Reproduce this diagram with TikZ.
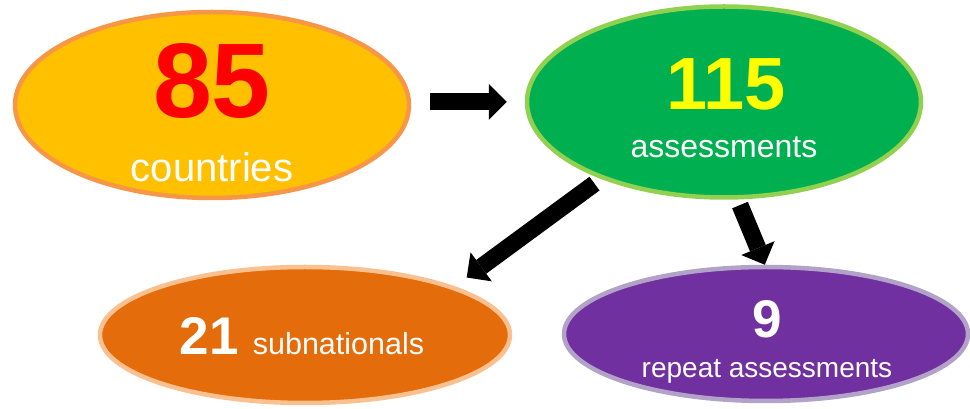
\documentclass[tikz,border=0pt]{standalone}
\usepackage{fontspec}
\setmainfont{Liberation Sans}
\usepackage{tikz}
\usetikzlibrary{arrows.meta, shapes.geometric}
\definecolor{custom_gold}{HTML}{FFC000}
\definecolor{custom_peach}{HTML}{F79646}
\definecolor{custom_green}{HTML}{00B050}
\definecolor{custom_lime}{HTML}{92D050}
\definecolor{custom_orange}{HTML}{E46C0A}
\definecolor{custom_apricot}{HTML}{FAC090}
\definecolor{custom_purple}{HTML}{7030A0}
\definecolor{custom_lilac}{HTML}{B3A2C7}
\definecolor{custom_red}{HTML}{FF0000}
\definecolor{custom_yellow}{HTML}{FFFF00}

\begin{document}
\begin{tikzpicture}[x=1pt, y=1pt,
    blob/.style={ellipse, line width=4.5pt, inner sep=0pt},
    txt/.style={anchor=base, inner sep=0pt, text=white},
    blockarrow/.style={line width=17pt, -{Triangle[length=18pt, width=36pt, line width=0pt]}}]
    \useasboundingbox (0,0) rectangle (970,409);

    % Top row - countries and assessments
    \node[blob, fill=custom_gold, draw=custom_peach, minimum width=394pt, minimum height=186pt] (n85) at (212,304) {};
    \node[blob, fill=custom_green, draw=custom_lime, minimum width=394pt, minimum height=191pt] (n115) at (724,307) {};

    \node[txt, text=custom_red, font=\fontsize{106}{106}\selectfont\bfseries] (t85) at (212,291) {85};
    \node[txt, font=\fontsize{40}{40}\selectfont] (tcountries) at (212,227) {countries};
    \node[txt, text=custom_yellow, font=\fontsize{74}{74}\selectfont\bfseries] (t115) at (726,299) {115};
    \node[txt, font=\fontsize{32}{32}\selectfont] (tassess) at (724,251) {assessments};

    % Bottom row - subnationals and repeats
    \node[blob, fill=custom_orange, draw=custom_apricot, minimum width=410pt, minimum height=136pt] (n21) at (305,74) {};
    \node[blob, fill=custom_purple, draw=custom_lilac, minimum width=404pt, minimum height=134pt] (n9) at (766,75) {};

    \node[txt, font=\fontsize{30.5}{30.5}\selectfont] (tsub) at (302,54)
      {{\fontsize{53}{53}\selectfont\bfseries 21}\hspace{14pt}subnationals};
    \node[txt, font=\fontsize{53}{53}\selectfont\bfseries] (t9) at (767,71) {9};
    \node[txt, font=\fontsize{28}{28}\selectfont] (trepeat) at (767,31) {repeat assessments};

    % Block arrows
    \draw[blockarrow, shorten <=19pt, shorten >=18pt] (n85.east |- n115.west) -- (n115.west);
    \draw[blockarrow, shorten <=8pt, shorten >=15pt] (n115.212.5) -- (n21.18.4);
    \draw[blockarrow, shorten <=6pt] (n115.278) -- (n9.91);
\end{tikzpicture}
\end{document}
